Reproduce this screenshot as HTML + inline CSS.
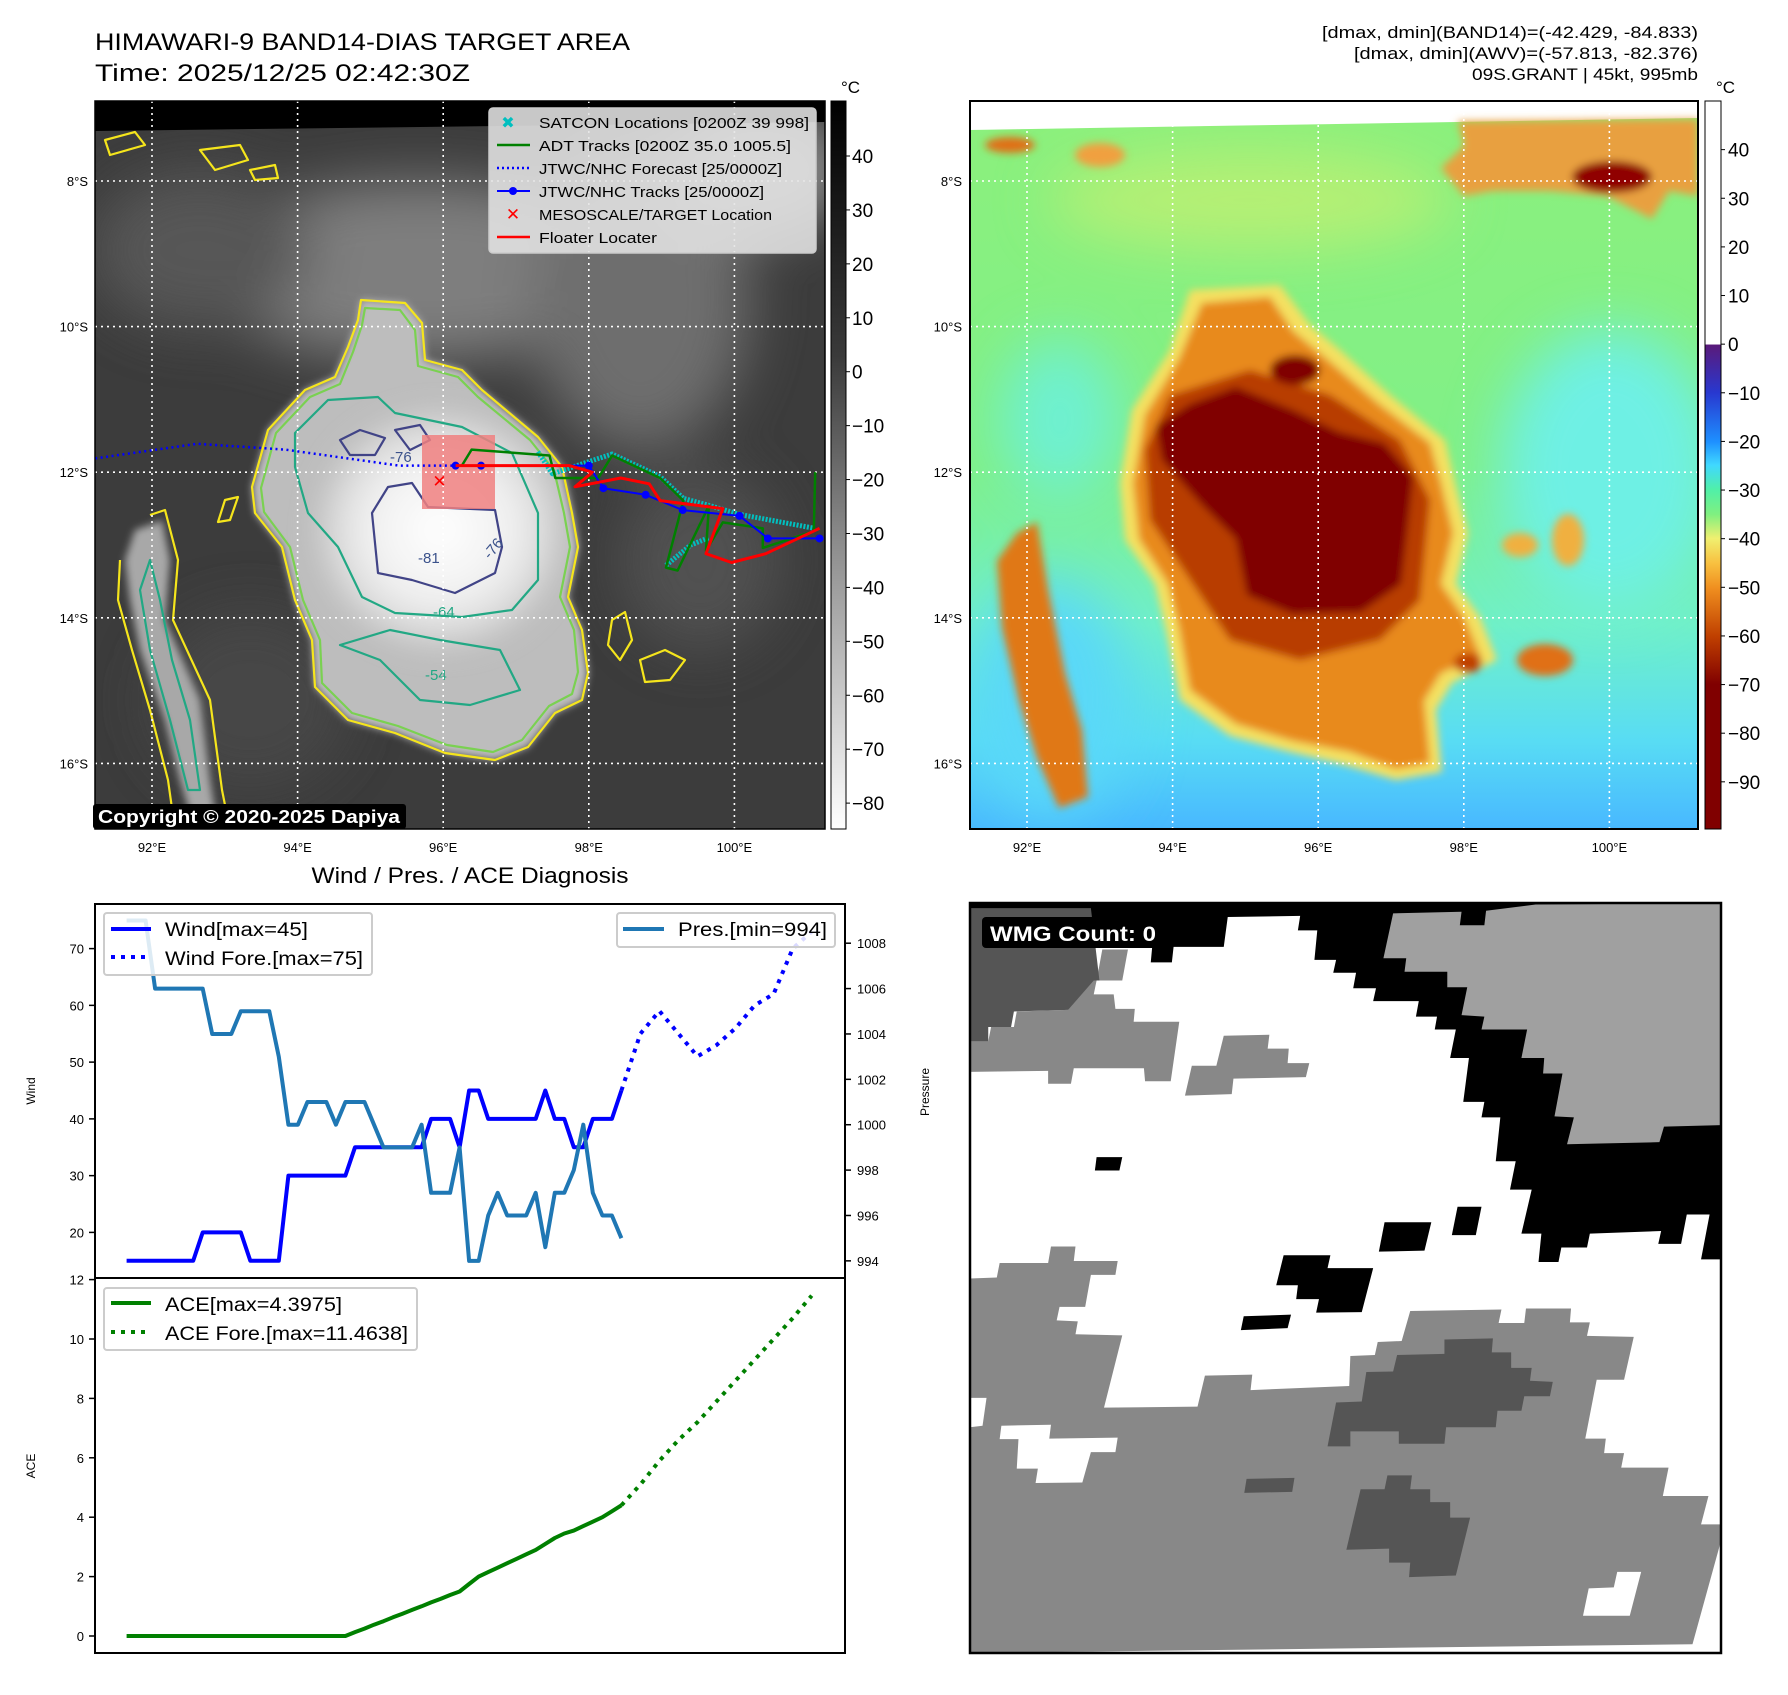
<!DOCTYPE html>
<html><head><meta charset="utf-8">
<style>
html,body{margin:0;padding:0;background:#fff;}
svg text{font-family:"Liberation Sans","DejaVu Sans",sans-serif;}
</style></head>
<body>
<svg id="root" xmlns="http://www.w3.org/2000/svg" width="1788" height="1690" viewBox="0 0 1788 1690">
<defs>
  <filter id="blur4" x="-20%" y="-20%" width="140%" height="140%"><feGaussianBlur stdDeviation="4"/></filter>
  <filter id="blur12" x="-30%" y="-30%" width="160%" height="160%"><feGaussianBlur stdDeviation="14"/></filter>
  <filter id="blur25" x="-50%" y="-50%" width="200%" height="200%"><feGaussianBlur stdDeviation="28"/></filter>
  <linearGradient id="cbGray" x1="0" y1="0" x2="0" y2="1">
    <stop offset="0" stop-color="#000"/><stop offset="0.35" stop-color="#3a3a3a"/><stop offset="0.6" stop-color="#8a8a8a"/><stop offset="1" stop-color="#fff"/>
  </linearGradient>
  <linearGradient id="cbColor" x1="0" y1="0" x2="0" y2="1">
    <stop offset="0" stop-color="#fff"/><stop offset="0.334" stop-color="#fff"/>
    <stop offset="0.335" stop-color="#5a1a7a"/><stop offset="0.401" stop-color="#2838d0"/>
    <stop offset="0.468" stop-color="#1e90ff"/><stop offset="0.50" stop-color="#40d8ff"/>
    <stop offset="0.534" stop-color="#50f0a8"/><stop offset="0.568" stop-color="#80f080"/>
    <stop offset="0.601" stop-color="#f0f070"/><stop offset="0.635" stop-color="#f8c040"/>
    <stop offset="0.668" stop-color="#f09020"/><stop offset="0.735" stop-color="#c04000"/>
    <stop offset="0.801" stop-color="#800000"/><stop offset="1" stop-color="#800000"/>
  </linearGradient>
  <linearGradient id="rbg" x1="0" y1="101" x2="0" y2="829" gradientUnits="userSpaceOnUse">
    <stop offset="0" stop-color="#8cf07c"/><stop offset="0.5" stop-color="#80f088"/>
    <stop offset="0.72" stop-color="#70f0c8"/><stop offset="0.88" stop-color="#58dcf4"/><stop offset="1" stop-color="#48b8ff"/>
  </linearGradient>
  <radialGradient id="coreWhite" cx="0.5" cy="0.5" r="0.5">
    <stop offset="0" stop-color="#ffffff"/><stop offset="0.6" stop-color="#f0f0f0"/><stop offset="1" stop-color="#d0d0d0"/>
  </radialGradient>
  <clipPath id="clipL"><rect x="95" y="101" width="730" height="728"/></clipPath>
  <clipPath id="clipR"><rect x="970" y="101" width="728" height="728"/></clipPath>
  <clipPath id="clipW"><rect x="95" y="904" width="750" height="374"/></clipPath>
  <clipPath id="clipA"><rect x="95" y="1278" width="750" height="375"/></clipPath>
</defs>

<!-- Titles -->
<text x="95" y="50" font-size="24" textLength="535" lengthAdjust="spacingAndGlyphs">HIMAWARI-9 BAND14-DIAS TARGET AREA</text>
<text x="95" y="81" font-size="24" textLength="375" lengthAdjust="spacingAndGlyphs">Time: 2025/12/25 02:42:30Z</text>
<g font-size="17" text-anchor="end">
  <text x="1698" y="38" textLength="376" lengthAdjust="spacingAndGlyphs">[dmax, dmin](BAND14)=(-42.429, -84.833)</text>
  <text x="1698" y="59" textLength="344" lengthAdjust="spacingAndGlyphs">[dmax, dmin](AWV)=(-57.813, -82.376)</text>
  <text x="1698" y="80" textLength="226" lengthAdjust="spacingAndGlyphs">09S.GRANT | 45kt, 995mb</text>
</g>

<!-- LEFT MAP -->
<g clip-path="url(#clipL)">
  <rect x="95" y="101" width="730" height="728" fill="#3c3c3c"/>
  <g filter="url(#blur25)" opacity="0.85">
    <ellipse cx="420" cy="270" rx="220" ry="90" fill="#8a8a8a"/>
    <ellipse cx="640" cy="300" rx="110" ry="150" fill="#777"/>
    <ellipse cx="200" cy="250" rx="110" ry="80" fill="#5c5c5c"/>
    <ellipse cx="760" cy="170" rx="90" ry="60" fill="#9a9a9a"/>
    <ellipse cx="700" cy="560" rx="80" ry="90" fill="#555"/>
    <ellipse cx="250" cy="700" rx="100" ry="90" fill="#4a4a4a"/>
  </g>
  <polygon points="95,101 825,101 825,122 95,131" fill="#000"/>
  <!-- storm -->
  <path d="M361,300 L405,303 L422,323 L425,360 L462,370 L482,390 L538,437 L562,467 L572,513 L578,547 L568,597 L582,630 L588,673 L582,700 L555,713 L528,747 L495,760 L445,753 L395,733 L348,720 L315,687 L312,640 L295,600 L282,547 L255,513 L252,487 L268,430 L305,390 L335,377 L348,347 L358,320Z" fill="#bdbdbd" filter="url(#blur4)"/>
  <ellipse cx="440" cy="530" rx="120" ry="115" fill="url(#coreWhite)" filter="url(#blur12)"/>
  <path d="M150,525 L162,520 L170,560 L165,620 L200,700 L210,780 L218,830 L195,830 L180,780 L165,720 L140,650 L130,600 L125,560 L135,530Z" fill="#a8a8a8" filter="url(#blur4)"/>
  <!-- contours -->
  <g fill="none" stroke-linejoin="round" stroke-width="2.2">
    <path stroke="#f5e51c" d="M361,300 L405,303 L422,323 L425,360 L462,370 L482,390 L538,437 L562,467 L572,513 L578,547 L568,597 L582,630 L588,673 L582,700 L555,713 L528,747 L495,760 L445,753 L395,733 L348,720 L315,687 L312,640 L295,600 L282,547 L255,513 L252,487 L268,430 L305,390 L335,377 L348,347 L358,320Z"/>
    <path stroke="#7ad151" d="M365,308 L400,310 L415,330 L418,366 L458,377 L478,397 L530,440 L554,470 L564,513 L570,547 L560,597 L574,630 L578,672 L572,694 L549,706 L522,740 L493,752 L447,745 L398,726 L352,713 L322,683 L320,640 L303,600 L290,547 L264,512 L261,488 L276,433 L310,397 L340,384 L353,352 L362,325Z"/>
    <path stroke="#22a884" d="M295,433 L328,400 L378,397 L395,413 L462,427 L512,453 L538,513 L538,580 L512,610 L462,617 L395,613 L362,597 L338,547 L308,513 L295,467Z"/>
    <path stroke="#22a884" d="M340,645 L380,660 L420,700 L470,705 L520,690 L500,650 L440,640 L390,630Z"/>
    <path stroke="#22a884" d="M150,560 L160,600 L172,660 L190,720 L200,790 L188,790 L170,720 L150,650 L140,590Z"/>
    <path stroke="#414487" d="M388,487 L412,483 L428,507 L495,510 L502,547 L495,573 L455,593 L412,580 L378,573 L372,513Z"/>
    <path stroke="#414487" d="M340,440 L360,430 L385,438 L375,455 L350,455Z"/>
    <path stroke="#414487" d="M395,430 L420,425 L430,440 L410,450Z"/>
    <path stroke="#f5e51c" d="M1e0,0"/>
    <path stroke="#f5e51c" d="M150,515 L165,510 L178,560 L173,620 L210,700 L222,790 L230,830 M120,560 L118,600 L132,650 L150,710 L168,780 L175,830"/>
    <path stroke="#f5e51c" d="M612,620 L625,612 L632,640 L620,660 L608,645Z"/>
    <path stroke="#f5e51c" d="M640,660 L665,650 L685,660 L670,680 L645,682Z"/>
    <path stroke="#f5e51c" d="M225,500 L238,497 L230,520 L218,522Z"/>
    <path stroke="#f5e51c" d="M105,140 L135,132 L145,145 L110,155Z M200,150 L240,145 L248,160 L215,170Z M250,170 L275,165 L278,178 L255,180Z"/>
  </g>
  <g font-size="15" fill="#3b528b"><text x="418" y="563">-81</text><text x="490" y="560" transform="rotate(-50 490 560)">-76</text><text x="390" y="462">-76</text><text x="433" y="617" fill="#22a884">-64</text><text x="425" y="680" fill="#22a884">-54</text></g>
  <g id="tracks"></g>
  <rect x="422" y="435" width="73" height="74" fill="#f08080" opacity="0.85"/>
  <g id="gridL" stroke="#fff" stroke-width="1.6" stroke-dasharray="2 4"></g>
  <g id="tracks2"></g>
</g>
<rect x="95" y="101" width="730" height="728" fill="none" stroke="#000" stroke-width="1.5"/>
<!-- legend -->
<g font-size="15">
  <rect x="489" y="108" width="327" height="145" rx="4" fill="#e4e4e4" fill-opacity="0.88" stroke="#ccc" stroke-width="1.5"/>
  <text x="508" y="128" fill="#00bfbf" font-size="16" text-anchor="middle">✖</text>
  <text x="539" y="128" textLength="270" lengthAdjust="spacingAndGlyphs">SATCON Locations [0200Z 39 998]</text>
  <line x1="497" y1="145" x2="530" y2="145" stroke="#008000" stroke-width="2.5"/>
  <text x="539" y="151" textLength="252" lengthAdjust="spacingAndGlyphs">ADT Tracks [0200Z 35.0 1005.5]</text>
  <line x1="497" y1="168" x2="530" y2="168" stroke="#0000ff" stroke-width="2.5" stroke-dasharray="2 3"/>
  <text x="539" y="174" textLength="243" lengthAdjust="spacingAndGlyphs">JTWC/NHC Forecast [25/0000Z]</text>
  <line x1="497" y1="191" x2="530" y2="191" stroke="#0000ff" stroke-width="2"/><circle cx="513" cy="191" r="4" fill="#0000ff"/>
  <text x="539" y="197" textLength="225" lengthAdjust="spacingAndGlyphs">JTWC/NHC Tracks [25/0000Z]</text>
  <text x="513" y="220" fill="#ff0000" font-size="17" text-anchor="middle" font-weight="bold">✕</text>
  <text x="539" y="220" textLength="233" lengthAdjust="spacingAndGlyphs">MESOSCALE/TARGET Location</text>
  <line x1="497" y1="237" x2="530" y2="237" stroke="#ff0000" stroke-width="2.5"/>
  <text x="539" y="243" textLength="118" lengthAdjust="spacingAndGlyphs">Floater Locater</text>
</g>
<g>
  <rect x="93" y="804" width="313" height="25" rx="3" fill="#000"/>
  <text x="98" y="823" fill="#fff" font-weight="bold" font-size="18" textLength="302" lengthAdjust="spacingAndGlyphs">Copyright © 2020-2025 Dapiya</text>
</g>
<!-- left colorbar -->
<g>
  <rect x="831" y="101" width="15" height="728" fill="url(#cbGray)" stroke="#000" stroke-width="1"/>
  <text x="841" y="93" font-size="17">°C</text>
  <g id="cbLticks" font-size="19"></g>
</g>

<!-- RIGHT MAP -->
<g clip-path="url(#clipR)">
  <rect x="970" y="101" width="728" height="728" fill="url(#rbg)"/>
  <g filter="url(#blur25)">
    <ellipse cx="1610" cy="470" rx="110" ry="140" fill="#6ef0e4"/>
    <ellipse cx="1060" cy="420" rx="60" ry="80" fill="#6ef0d0"/>
    <ellipse cx="1250" cy="200" rx="200" ry="50" fill="#c8f070" opacity="0.7"/>
    <ellipse cx="1050" cy="700" rx="80" ry="120" fill="#5ad8f8"/>
  </g>
  <polygon points="970,101 1698,101 1698,118 970,130" fill="#fff"/>
  <g filter="url(#blur4)">
    <path d="M1190,290 L1280,285 L1310,325 L1340,350 L1390,395 L1445,440 L1455,483 L1468,533 L1456,584 L1480,617 L1497,660 L1452,683 L1436,710 L1442,772 L1396,780 L1345,765 L1290,752 L1230,736 L1180,700 L1166,630 L1155,584 L1125,540 L1120,483 L1132,410 L1170,350Z" fill="#f4e060"/>
    <path d="M1202,303 L1270,297 L1293,331 L1327,359 L1379,404 L1430,443 L1441,483 L1453,533 L1441,584 L1464,617 L1481,657 L1441,673 L1424,701 L1430,763 L1396,769 L1350,752 L1293,741 L1236,724 L1190,690 L1179,628 L1168,584 L1139,539 L1133,483 L1145,415 L1179,359Z" fill="#e88a1c"/>
    <path d="M1170,395 L1250,370 L1330,395 L1400,440 L1430,500 L1420,600 L1380,640 L1300,660 L1230,640 L1190,580 L1150,520 L1145,450Z" fill="#b83c06"/>
    <path d="M1190,404 L1236,387 L1293,410 L1339,432 L1384,443 L1413,477 L1407,533 L1401,584 L1361,612 L1293,614 L1247,595 L1236,539 L1202,505 L1162,460 L1156,426Z" fill="#800000"/>
    <ellipse cx="1295" cy="370" rx="25" ry="15" fill="#800000"/>
    <path d="M1017,533 L1037,522 L1048,589 L1065,673 L1082,730 L1088,797 L1059,808 L1037,758 L1019,701 L1002,628 L997,561Z" fill="#e07818"/>
    <path d="M1458,121 L1698,119 L1698,196 L1669,191 L1652,219 L1607,196 L1550,191 L1493,191 L1464,196 L1441,168 L1464,146Z" fill="#e8a040"/>
    <ellipse cx="1612" cy="177" rx="40" ry="16" fill="#900000"/>
    <ellipse cx="1568" cy="540" rx="16" ry="26" fill="#f0b040"/>
    <ellipse cx="1520" cy="545" rx="18" ry="12" fill="#f0b040"/>
    <ellipse cx="1545" cy="660" rx="28" ry="16" fill="#e07018"/>
    <ellipse cx="1468" cy="663" rx="14" ry="10" fill="#c04000"/>
    <ellipse cx="1010" cy="145" rx="25" ry="8" fill="#e07018"/>
    <ellipse cx="1100" cy="155" rx="25" ry="12" fill="#f0a040"/>
  </g>
  <g id="gridR" stroke="#fff" stroke-width="1.6" stroke-dasharray="2 4"></g>
</g>
<rect x="970" y="101" width="728" height="728" fill="none" stroke="#000" stroke-width="2"/>
<g>
  <rect x="1705" y="101" width="16" height="728" fill="url(#cbColor)" stroke="#000" stroke-width="1"/>
  <text x="1716" y="93" font-size="17">°C</text>
  <g id="cbRticks" font-size="19"></g>
</g>
<g id="mapLabels" font-size="13"></g>

<!-- WIND / PRES / ACE -->
<text x="470" y="883" font-size="22" text-anchor="middle" textLength="317" lengthAdjust="spacingAndGlyphs">Wind / Pres. / ACE Diagnosis</text>
<g id="windChart"></g>
<g id="aceChart"></g>
<rect x="95" y="904" width="750" height="374" fill="none" stroke="#000" stroke-width="2"/>
<rect x="95" y="1278" width="750" height="375" fill="none" stroke="#000" stroke-width="2"/>
<text x="35" y="1091" font-size="12" text-anchor="middle" transform="rotate(-90 35 1091)">Wind</text>
<text x="929" y="1092" font-size="12" text-anchor="middle" transform="rotate(-90 929 1092)">Pressure</text>
<text x="35" y="1466" font-size="12" text-anchor="middle" transform="rotate(-90 35 1466)">ACE</text>

<g font-size="19">
  <rect x="104" y="913" width="268" height="62" rx="3" fill="#fff" fill-opacity="0.85" stroke="#ccc" stroke-width="2"/>
  <line x1="111" y1="929" x2="151" y2="929" stroke="#0000ff" stroke-width="4"/>
  <text x="165" y="936" textLength="143" lengthAdjust="spacingAndGlyphs">Wind[max=45]</text>
  <line x1="111" y1="957" x2="151" y2="957" stroke="#0000ff" stroke-width="4" stroke-dasharray="4 6"/>
  <text x="165" y="965" textLength="198" lengthAdjust="spacingAndGlyphs">Wind Fore.[max=75]</text>
</g>
<g font-size="19">
  <rect x="617" y="913" width="218" height="34" rx="3" fill="#fff" fill-opacity="0.85" stroke="#ccc" stroke-width="2"/>
  <line x1="623" y1="929" x2="664" y2="929" stroke="#1f77b4" stroke-width="4"/>
  <text x="678" y="936" textLength="149" lengthAdjust="spacingAndGlyphs">Pres.[min=994]</text>
</g>
<g font-size="19">
  <rect x="104" y="1288" width="313" height="62" rx="3" fill="#fff" fill-opacity="0.85" stroke="#ccc" stroke-width="2"/>
  <line x1="111" y1="1303" x2="151" y2="1303" stroke="#008000" stroke-width="4"/>
  <text x="165" y="1311" textLength="177" lengthAdjust="spacingAndGlyphs">ACE[max=4.3975]</text>
  <line x1="111" y1="1332" x2="151" y2="1332" stroke="#008000" stroke-width="4" stroke-dasharray="4 6"/>
  <text x="165" y="1340" textLength="243" lengthAdjust="spacingAndGlyphs">ACE Fore.[max=11.4638]</text>
</g>

<!-- WMG panel -->
<g>
<svg x="970" y="903" width="751" height="750" viewBox="133 45 1317 1452" preserveAspectRatio="none">
  <rect x="133" y="45" width="1317" height="1452" fill="#fff"/>
  <polygon fill="#000" points="133,45 1450,45 1450,735 1415,735 1430,648 1390,648 1380,705 1340,705 1345,680 1220,685 1215,712 1170,712 1165,740 1130,740 1135,685 1100,685 1118,600 1080,600 1090,545 1055,545 1063,460 1030,460 1035,430 998,430 1008,345 975,345 985,290 948,290 952,265 915,265 920,235 840,235 845,210 805,210 810,180 770,180 775,155 737,155 742,98 708,98 712,70 585,72 578,130 490,130 487,160 450,160 455,100 133,100"/>
  <polygon fill="#a0a0a0" points="875,65 995,62 992,88 1035,88 1038,60 1125,48 1450,45 1450,475 1350,478 1342,508 1180,512 1192,460 1158,458 1172,375 1138,375 1140,345 1100,345 1110,290 1030,290 1035,265 995,262 1005,208 970,208 970,178 895,178 898,152 858,152"/>
  <polygon fill="#888" points="133,313 165,313 170,285 210,285 215,255 305,252 312,195 355,195 365,135 410,135 400,195 355,195 350,222 385,222 388,250 422,250 420,275 500,275 485,390 440,390 438,365 315,365 310,395 270,395 270,370 133,372"/>
  <polygon fill="#555" points="133,55 345,55 360,195 350,195 305,252 210,255 205,285 165,285 165,313 133,313"/>
  <polygon fill="#888" points="578,302 658,300 655,327 692,327 690,355 728,355 722,382 595,385 592,415 510,418 522,360 565,360"/>
  <g fill="#000">
    <polygon points="355,537 400,537 395,563 352,563"/>
    <polygon points="988,633 1030,633 1020,688 978,688"/>
    <polygon points="860,663 942,663 930,718 850,720"/>
    <polygon points="683,727 765,727 760,752 840,752 820,837 740,838 745,812 705,812 708,785 670,785"/>
    <polygon points="613,845 696,842 690,868 608,872"/>
  </g>
  <polygon fill="#888" points="133,772 180,770 185,742 270,742 275,710 318,710 315,738 392,738 388,765 345,765 335,827 290,827 285,853 322,855 318,880 400,882 368,1022 532,1020 545,960 628,958 625,988 798,980 800,922 843,920 848,895 890,893 905,835 1065,832 1060,858 1105,858 1108,830 1187,830 1185,857 1220,857 1215,883 1297,885 1280,968 1232,968 1212,1082 1248,1082 1245,1110 1280,1110 1275,1138 1358,1138 1348,1193 1428,1193 1415,1248 1450,1248 1450,1280 1400,1480 133,1497"/>
  <g fill="#fff">
    <polygon points="133,1003 162,1003 155,1057 133,1060"/>
    <polygon points="188,1057 275,1055 272,1082 392,1080 388,1108 345,1108 330,1167 248,1168 252,1140 215,1140 218,1083 185,1083"/>
    <polygon points="1268,1340 1310,1340 1290,1425 1208,1425 1218,1372 1262,1370"/>
  </g>
  <g fill="#555">
    <polygon points="965,890 1050,888 1048,915 1082,915 1082,945 1118,945 1115,970 1155,972 1150,1000 1105,1000 1100,1028 1058,1028 1055,1060 968,1060 965,1092 885,1092 885,1068 800,1068 800,1097 760,1097 775,1012 820,1010 828,953 875,952 882,920 965,918"/>
    <polygon points="618,1160 702,1158 698,1185 614,1187"/>
    <polygon points="865,1153 908,1153 905,1180 940,1180 940,1205 975,1205 975,1235 1010,1235 985,1347 903,1350 905,1322 868,1322 868,1295 793,1297 818,1180 860,1180"/>
  </g>
</svg>
<rect x="970" y="903" width="751" height="750" fill="none" stroke="#000" stroke-width="2.5"/>
<rect x="982" y="917" width="177" height="31" rx="4" fill="#000"/>
<text x="990" y="941" fill="#fff" font-weight="bold" font-size="21" textLength="166" lengthAdjust="spacingAndGlyphs">WMG Count: 0</text>
</g>

<script>
// ---- chart data ----
const windObs = [15,15,15,15,15,15,15,15,20,20,20,20,20,15,15,15,15,30,30,30,30,30,30,30,35,35,35,35,35,35,35,35,40,40,40,35,45,45,40,40,40,40,40,40,45,40,40,35,35,40,40,40,45];
const presObs = [1009,1009,1009,1006,1006,1006,1006,1006,1006,1004,1004,1004,1005,1005,1005,1005,1003,1000,1000,1001,1001,1001,1000,1001,1001,1001,1000,999,999,999,999,1000,997,997,997,999,994,994,996,997,996,996,996,997,994.6,997,997,998,1000,997,996,996,995];
const aceObs = [0,0,0,0,0,0,0,0,0,0,0,0,0,0,0,0,0,0,0,0,0,0,0,0,0.13,0.25,0.38,0.5,0.63,0.75,0.88,1.0,1.13,1.25,1.38,1.5,1.75,2.0,2.15,2.3,2.45,2.6,2.75,2.9,3.1,3.3,3.45,3.55,3.7,3.85,4.0,4.2,4.4];
const fcstSteps = [52,54,56,58,60,62,64,66,68,70,72];
const windFcst = [45,55,59,55,51,53,56,60,62,70,73];
const aceFcst = [4.4,5.1,5.9,6.6,7.2,7.9,8.6,9.3,10.0,10.7,11.46];
const windTicks = [20,30,40,50,60,70];
const presTicks = [994,996,998,1000,1002,1004,1006,1008];
const aceTicks = [0,2,4,6,8,10,12];
// map tick labels
const lonTicks = [92,94,96,98,100];
const latTicks = [8,10,12,14,16];
const cbLeftTicks = [40,30,20,10,0,-10,-20,-30,-40,-50,-60,-70,-80];
const cbRightTicks = [40,30,20,10,0,-10,-20,-30,-40,-50,-60,-70,-80,-90];
// storm tracks (lon, lat south positive)
const fcstLon = [91.22,92.62,93.83,95.39,96.17];
const fcstLat = [11.81,11.61,11.69,11.91,11.91];
const jtwcLon = [96.17,96.52,98.0,98.2,98.78,99.29,100.07,100.46,101.17];
const jtwcLat = [11.91,11.91,11.91,12.22,12.31,12.52,12.6,12.91,12.91];
const adtLon = [96.25,96.39,97.46,97.54,98.13,98.32,98.98,99.30,99.06,99.22,99.65,99.61,99.84,100.39,100.39,101.09,101.11];
const adtLat = [11.92,11.69,11.77,12.08,12.08,11.77,12.08,12.39,13.31,13.35,12.46,13.08,12.69,12.77,13.04,12.81,12.0];
const satLon = [97.3,97.5,98.32,98.98,99.30,99.7,100.07,101.1];
const satLat = [11.72,12.02,11.75,12.06,12.36,12.47,12.58,12.77];
const satLon2 = [99.06,99.4,99.65];
const satLat2 = [13.28,13.0,12.9];
const flLon = [96.17,97.73,98.05,97.81,98.44,98.83,98.98,99.84,99.61,99.96,100.43,101.17];
const flLat = [11.91,11.91,12.0,12.2,12.08,12.16,12.39,12.5,13.12,13.24,13.12,12.77];
const targetLon = [95.95];
const targetLat = [12.12];

const NS = 'http://www.w3.org/2000/svg';
function mk(tag, attrs, parent){const e=document.createElementNS(NS,tag);for(const k in attrs)e.setAttribute(k,attrs[k]);parent.appendChild(e);return e;}

// axis functions
const xIdx = i => 126.6 + i*9.515;
const yWind = w => 948.6 - (w-70)*5.676;
const yPres = p => 943.2 - (p-1008)*22.69;
const yAce = a => 1636 - a*29.7;
const lonXL = lon => 152 + (lon-92)*72.8;
const lonXR = lon => 1027 + (lon-92)*72.8;
const latY = lat => 181 + (lat-8)*72.8;

const wc = document.getElementById('windChart');
const ac = document.getElementById('aceChart');
const wlines = mk('g',{'clip-path':'url(#clipW)'},wc);
const alines = mk('g',{'clip-path':'url(#clipA)'},ac);

function pts(xs, ys){return xs.map((x,i)=>x.toFixed(1)+','+ys[i].toFixed(1)).join(' ');}

let l;
l = mk('polyline',{points:pts(windObs.map((v,i)=>xIdx(i)),windObs.map(yWind)),fill:'none',stroke:'#0000ff','stroke-width':4,'stroke-linejoin':'round'},wlines);


l = mk('polyline',{points:pts(fcstSteps.map(xIdx),windFcst.map(yWind)),fill:'none',stroke:'#0000ff','stroke-width':4,'stroke-dasharray':'4 6'},wlines);


l = mk('polyline',{points:pts(presObs.map((v,i)=>xIdx(i)),presObs.map(yPres)),fill:'none',stroke:'#1f77b4','stroke-width':4,'stroke-linejoin':'round'},wlines);


l = mk('polyline',{points:pts(aceObs.map((v,i)=>xIdx(i)),aceObs.map(yAce)),fill:'none',stroke:'#008000','stroke-width':4,'stroke-linejoin':'round'},alines);


l = mk('polyline',{points:pts(fcstSteps.map(xIdx),aceFcst.map(yAce)),fill:'none',stroke:'#008000','stroke-width':4,'stroke-dasharray':'4 6'},alines);



windTicks.forEach(v=>{const y=yWind(v);
  mk('line',{x1:89,x2:95,y1:y,y2:y,stroke:'#000','stroke-width':1.5},wc);
  const t=mk('text',{x:84,y:y+5,'font-size':13,'text-anchor':'end'},wc);t.textContent=v;
  
  });
presTicks.forEach(v=>{const y=yPres(v);
  mk('line',{x1:845,x2:851,y1:y,y2:y,stroke:'#000','stroke-width':1.5},wc);
  const t=mk('text',{x:857,y:y+5,'font-size':13},wc);t.textContent=v;
  
  });
aceTicks.forEach(v=>{const y=yAce(v);
  mk('line',{x1:89,x2:95,y1:y,y2:y,stroke:'#000','stroke-width':1.5},ac);
  const t=mk('text',{x:84,y:y+5,'font-size':13,'text-anchor':'end'},ac);t.textContent=v;
  
  });

// map grids & labels
const gL=document.getElementById('gridL'), gR=document.getElementById('gridR'), ml=document.getElementById('mapLabels');
lonTicks.forEach(lon=>{
  mk('line',{x1:lonXL(lon),x2:lonXL(lon),y1:101,y2:829},gL);
  mk('line',{x1:lonXR(lon),x2:lonXR(lon),y1:101,y2:829},gR);
  let t=mk('text',{x:lonXL(lon),y:852,'text-anchor':'middle'},ml);t.textContent=lon+'°E';
  
  
  t=mk('text',{x:lonXR(lon),y:852,'text-anchor':'middle'},ml);t.textContent=lon+'°E';
  
  
});
latTicks.forEach(lat=>{
  mk('line',{x1:95,x2:825,y1:latY(lat),y2:latY(lat)},gL);
  mk('line',{x1:970,x2:1698,y1:latY(lat),y2:latY(lat)},gR);
  let t=mk('text',{x:88,y:latY(lat)+5,'text-anchor':'end'},ml);t.textContent=lat+'°S';
  
  
  t=mk('text',{x:962,y:latY(lat)+5,'text-anchor':'end'},ml);t.textContent=lat+'°S';
  
  
});
// colorbars
const cbL=document.getElementById('cbLticks'), cbR=document.getElementById('cbRticks');
cbLeftTicks.forEach(v=>{const y=101+(50.2-v)*(728/135);
  mk('line',{x1:846,x2:850,y1:y,y2:y,stroke:'#000'},cbL);
  const t=mk('text',{x:852,y:y+7},cbL);t.textContent=(v<0?'\u2212'+(-v):v);
  
  });
cbRightTicks.forEach(v=>{const y=101+(50-v)*(728/149.7);
  mk('line',{x1:1721,x2:1725,y1:y,y2:y,stroke:'#000'},cbR);
  const t=mk('text',{x:1728,y:y+7},cbR);t.textContent=(v<0?'\u2212'+(-v):v);
  
  });

// tracks
const tr=document.getElementById('tracks2');
function track(lons,lats,attrs,name){const e=mk('polyline',Object.assign({points:pts(lons.map(lonXL),lats.map(latY)),fill:'none','stroke-linejoin':'round'},attrs),tr);
  
  return e;}
track(fcstLon,fcstLat,{stroke:'#0000ff','stroke-width':2.5,'stroke-dasharray':'2 3.5'},'jtwc-forecast-track');
track(satLon,satLat,{stroke:'#00c0c0','stroke-width':5,'stroke-dasharray':'2 1.5'},'satcon-locations');
track(satLon2,satLat2,{stroke:'#00c0c0','stroke-width':5,'stroke-dasharray':'2 1.5'},'satcon-locations-2');
track(adtLon,adtLat,{stroke:'#008000','stroke-width':2.5},'adt-track');
track(jtwcLon,jtwcLat,{stroke:'#0000ff','stroke-width':2},'jtwc-track');
jtwcLon.forEach((lon,i)=>{const c=mk('circle',{cx:lonXL(lon),cy:latY(jtwcLat[i]),r:4,fill:'#0000ff'},tr);
  
  });
track(flLon,flLat,{stroke:'#ff0000','stroke-width':3},'floater-track');
targetLon.forEach((lon,i)=>{const t=mk('text',{x:lonXL(lon),y:latY(targetLat[i])+6,fill:'#ff0000','font-size':17,'font-weight':'bold','text-anchor':'middle'},tr);t.textContent='✕';
  
  });
</script>
</svg>
</body></html>
